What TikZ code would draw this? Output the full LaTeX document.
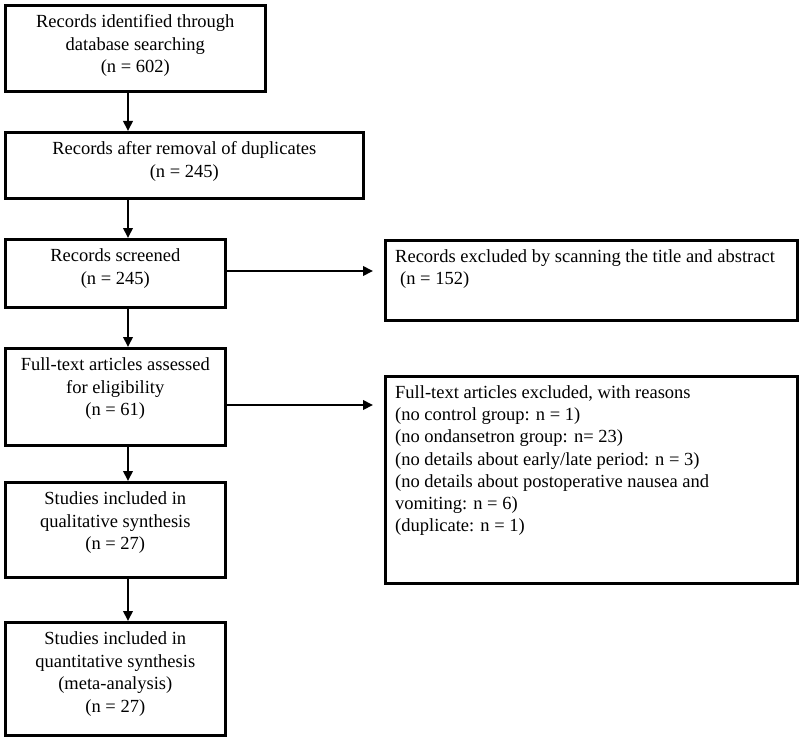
\documentclass[tikz,border=0pt]{standalone}
\usepackage{fontspec}
\setmainfont{Liberation Serif}
\usetikzlibrary{arrows.meta}
\begin{document}
\begin{tikzpicture}[x=1pt,y=-1pt,
  box/.style={draw, line width=2.6pt, anchor=north west, inner sep=0pt},
  ctxt/.style={anchor=north, align=center, inner sep=0pt, font=\fontsize{18.5}{22.6}\selectfont},
  ltxt/.style={anchor=north west, align=left, inner sep=0pt, font=\fontsize{18.5}{22.2}\selectfont},
  arr/.style={line width=2pt, -{Triangle[length=10pt,width=9.5pt]}}]
\useasboundingbox (0,0) rectangle (800,738);
% boxes
\node[box, minimum width=260pt, minimum height=86pt] (b1) at (4,4) {};
\node[box, minimum width=358pt, minimum height=66pt] (b2) at (4,131) {};
\node[box, minimum width=220pt, minimum height=68pt] (b3) at (4,238) {};
\node[box, minimum width=412pt, minimum height=80pt] (b4) at (384,239) {};
\node[box, minimum width=220pt, minimum height=97pt] (b5) at (4,347) {};
\node[box, minimum width=412pt, minimum height=207pt] (b6) at (384,375) {};
\node[box, minimum width=220pt, minimum height=95pt] (b7) at (4,481) {};
\node[box, minimum width=220pt, minimum height=113pt] (b8) at (4,621) {};
% texts
\node[ctxt] (t1) at ([yshift=-10.5pt]b1.north) {Records identified through\\database searching\\(n = 602)};
\node[ctxt] (t2) at ([yshift=-10.5pt]b2.north) {Records after removal of duplicates\\(n = 245)};
\node[ctxt] (t3) at ([yshift=-10.5pt]b3.north) {Records screened\\(n = 245)};
\node[ltxt] (t4) at ([xshift=11pt,yshift=-10.5pt]b4.north west) {Records excluded by scanning the title and abstract\\\hspace{5pt}(n = 152)};
\node[ctxt] (t5) at ([yshift=-10.5pt]b5.north) {Full-text articles assessed\\for eligibility\\(n = 61)};
\node[ltxt] (t6) at ([xshift=11pt,yshift=-10.5pt]b6.north west) {Full-text articles excluded, with reasons\\(no control group: n = 1)\\(no ondansetron group: n= 23)\\(no details about early/late period: n = 3)\\(no details about postoperative nausea and\\vomiting: n = 6)\\(duplicate: n = 1)};
\node[ctxt] (t7) at ([yshift=-10.5pt]b7.north) {Studies included in\\qualitative synthesis\\(n = 27)};
\node[ctxt] (t8) at ([yshift=-10.5pt]b8.north) {Studies included in\\quantitative synthesis\\(meta-analysis)\\(n = 27)};
% arrows
\draw[arr] (b1.south -| 128,0) -- (b2.north -| 128,0);
\draw[arr] (b2.south -| 128,0) -- (b3.north -| 128,0);
\draw[arr] (b3.south -| 128,0) -- (b5.north -| 128,0);
\draw[arr] (b5.south -| 128,0) -- (b7.north -| 128,0);
\draw[arr] (b7.south -| 128,0) -- (b8.north -| 128,0);
\draw[arr, shorten >=11pt] (b3.east |- 0,271) -- (b4.west |- 0,271);
\draw[arr, shorten >=11pt] (b5.east |- 0,405) -- (b6.west |- 0,405);
\end{tikzpicture}
\end{document}
